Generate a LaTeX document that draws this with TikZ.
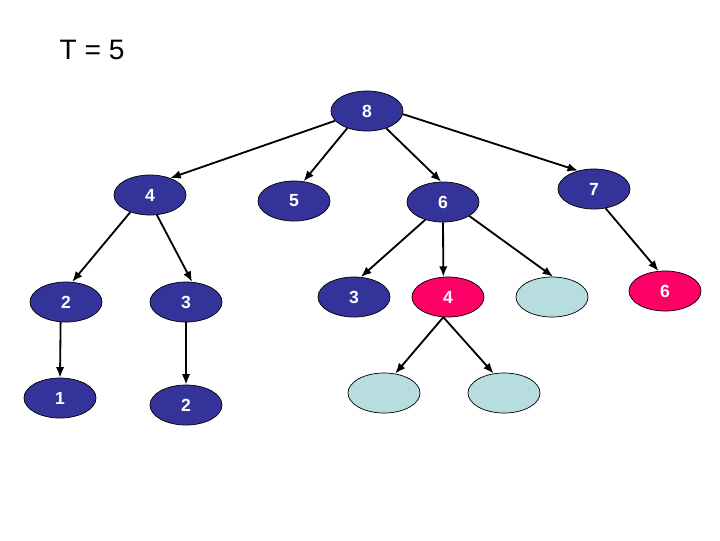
\documentclass[tikz,border=0pt]{standalone}
\usepackage{fontspec}
\setmainfont{Liberation Sans}
\usetikzlibrary{arrows.meta,shapes.geometric}

\definecolor{navy}{HTML}{333399}
\definecolor{hot}{HTML}{FF0066}
\definecolor{pale}{HTML}{B8DDE1}

\begin{document}
\begin{tikzpicture}[x=0.025cm,y=-0.025cm,
    key/.style={ellipse,draw=black,line width=0.5pt,minimum width=1.8cm,minimum height=1cm,
        inner sep=0pt,text=white,font=\fontsize{12.5}{14}\selectfont\bfseries},
    blue key/.style={key,fill=navy},
    red key/.style={key,fill=hot},
    free/.style={key,fill=pale},
    arr/.style={-{Latex[length=7.5pt,width=6pt]},line width=1.3pt}]
    \useasboundingbox (0,0) rectangle (720,540);

    \node (title) at (92,50) {\fontsize{20}{24}\selectfont T = 5};

    % top two levels
    \node[blue key] (n8) at (367,111) {8};
    \node[blue key] (n4) at (150,195) {4};
    \node[blue key] (n5) at (294,201) {5};
    \node[blue key] (n6) at (443,202) {6};
    \node[blue key] (n7) at (594,189) {7};

    % third level
    \node[blue key] (n2) at (66,302) {2};
    \node[blue key] (n3) at (186,302) {3};
    \node[blue key] (n3b) at (354,297) {3};
    \node[red key] (p4) at (448,297) {4};
    \node[free] (e1) at (552,297) {};
    \node[red key] (p6) at (665,291) {6};

    % bottom level
    \node[blue key] (n1) at (60,398) {1};
    \node[blue key] (n2b) at (186,405) {2};
    \node[free] (e2) at (384,393) {};
    \node[free] (e3) at (504,393) {};

    % from.angle / to.angle
    \foreach \a/\sa/\b/\sb in {n8/-163/n4/40, n8/-139/n5/64, n8/-42/n6/95, n8/-5/n7/131,
        n4/-139/n2/73, n4/-71/n3/73, n2/-105/n1/90, n3/-90/n2b/90,
        n6/-135/n3b/71, n6/-90/p4/103, n6/-28/e1/87, n7/-59/p6/108,
        p4/-103/e2/60, p4/-103/e3/118} {
        \draw[arr] (\a.\sa) -- (\b.\sb);
    }
\end{tikzpicture}
\end{document}
